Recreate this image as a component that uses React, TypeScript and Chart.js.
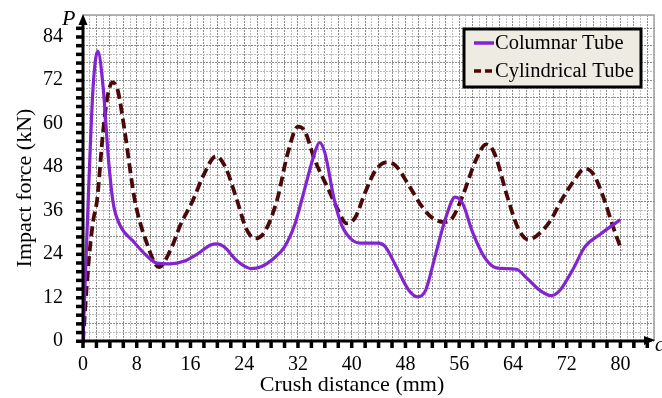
import React, { useEffect, useRef } from "react";
import { Chart, registerables } from "chart.js";

Chart.register(...registerables);

const columnarX = [0, 0.8, 1.5, 2.2, 3, 3.8, 4.5, 5.5, 7.5, 9.5, 11, 13, 15, 17, 19, 20, 21, 23, 25, 26.5, 28.5, 30, 31.5, 33, 34.5, 35.2, 36, 37.4, 38.5, 40, 41.5, 44, 45, 46.5, 48.5, 49.8, 51, 52.5, 54, 55.4, 56.5, 58, 59.8, 61.5, 64.5, 66, 68, 69.7, 71, 73, 74.7, 77, 80];
const columnarY = [0, 40, 70, 80, 70, 50, 38, 32, 27.5, 23.5, 21.5, 21.3, 22, 24, 26.5, 26.8, 26, 22, 20, 20.5, 23, 26, 32, 42, 52, 54.8, 52, 39, 32, 28, 27, 27, 26, 21, 14, 12.2, 14, 24, 34, 39.7, 38, 30, 23, 20.2, 19.8, 17.5, 14, 12.5, 14, 20, 26, 29.5, 33.5];

const cylindricalX = [0, 0.8, 1.5, 2.1, 3, 3.7, 4.4, 5.2, 6.2, 7.7, 9.5, 11.3, 13, 14.5, 16.4, 18, 19.8, 21.2, 22.9, 24.3, 25.6, 27, 28.9, 30.5, 32, 33, 34.5, 36.5, 38, 39.2, 40.5, 42, 43.5, 45.2, 46.5, 48.5, 50.5, 52, 53.8, 55, 56.5, 58.5, 60, 61.2, 63.3, 64.8, 66.3, 67.5, 69.5, 71.2, 73, 74.7, 76, 77.6, 79, 80.2];
const cylindricalY = [0, 21, 33, 39, 58, 68, 71.4, 69, 58, 39, 27, 20.4, 25, 32, 39, 46, 51, 48, 39, 31, 28.3, 30, 39, 52, 59.2, 58, 50, 42, 36, 32.5, 34, 41, 47, 49.3, 48.5, 43, 37, 34, 32.8, 34, 40, 50, 54.3, 52, 39, 31, 28, 29, 33, 38.8, 44, 47.6, 46, 39, 31, 25];

const xLabels = [0, 8, 16, 24, 32, 40, 48, 56, 64, 72, 80];
const yLabels = [0, 12, 24, 36, 48, 60, 72, 84];

const seriesNames = ["Columnar Tube", "Cylindrical Tube"];
const PURPLE = "#8224D0";
const MAROON = "#4A0808";
const SERIF = "'Liberation Serif', 'Times New Roman', serif";

const decorPlugin = {
  id: "decor",
  beforeDatasetsDraw(chart: any) {
    const { ctx, chartArea } = chart;
    ctx.save();
    ctx.strokeStyle = "#a0a0a0";
    ctx.lineWidth = 1.5;
    ctx.beginPath();
    ctx.moveTo(chartArea.left, chartArea.top);
    ctx.lineTo(chartArea.right, chartArea.top);
    ctx.lineTo(chartArea.right, chartArea.bottom);
    ctx.stroke();
    ctx.restore();
  },
  afterDraw(chart: any) {
    const { ctx, chartArea } = chart;
    const xs = chart.scales.x;
    const ys = chart.scales.y;
    const x0 = xs.getPixelForValue(0);
    const y0 = ys.getPixelForValue(0);
    ctx.save();
    ctx.fillStyle = "#000";
    ctx.strokeStyle = "#000";
    // y axis
    ctx.lineWidth = 3;
    ctx.beginPath();
    ctx.moveTo(x0, y0 + 1);
    ctx.lineTo(x0, chartArea.top + 6);
    ctx.stroke();
    ctx.beginPath();
    ctx.moveTo(x0, chartArea.top - 1);
    ctx.lineTo(x0 - 4.5, chartArea.top + 10);
    ctx.lineTo(x0 + 4.5, chartArea.top + 10);
    ctx.closePath();
    ctx.fill();
    // x axis
    ctx.beginPath();
    ctx.moveTo(x0 - 1, y0);
    ctx.lineTo(chartArea.right - 6, y0);
    ctx.stroke();
    ctx.beginPath();
    ctx.moveTo(chartArea.right + 1, y0 - 1);
    ctx.lineTo(chartArea.right - 10, y0 - 5);
    ctx.lineTo(chartArea.right - 10, y0 + 4);
    ctx.closePath();
    ctx.fill();
    // y tick marks
    for (let v = 0; v <= 86.5; v += 2.4) {
      const py = ys.getPixelForValue(v);
      ctx.fillRect(x0 - 7, py - 1.5, 7, 3.5);
    }
    // x tick marks
    for (let v = 0; v <= 84; v += 2) {
      const px = xs.getPixelForValue(v);
      ctx.fillRect(px - 1.75, y0, 3.5, 7);
    }
    // P and c labels
    ctx.font = `italic 22px ${SERIF}`;
    ctx.textAlign = "left";
    ctx.textBaseline = "alphabetic";
    ctx.fillText("P", x0 - 21, chartArea.top + 10);
    ctx.font = `italic 20px ${SERIF}`;
    ctx.fillText("c", chartArea.right + 1, y0 + 10);
    // axis titles
    ctx.font = `22px ${SERIF}`;
    ctx.textAlign = "center";
    ctx.textBaseline = "middle";
    ctx.fillText("Crush distance (mm)", 352, 385);
    ctx.save();
    ctx.translate(25, 188);
    ctx.rotate(-Math.PI / 2);
    ctx.fillText("Impact force (kN)", 0, 0);
    ctx.restore();
    // legend
    const lx = 464, ly = 29, lw = 177, lh = 58;
    ctx.fillStyle = "#EEECE2";
    ctx.fillRect(lx, ly, lw, lh);
    ctx.lineWidth = 3;
    ctx.strokeStyle = "#000";
    ctx.strokeRect(lx, ly, lw, lh);
    ctx.lineWidth = 3.5;
    ctx.strokeStyle = PURPLE;
    ctx.beginPath();
    ctx.moveTo(474, 43);
    ctx.lineTo(494, 43);
    ctx.stroke();
    ctx.strokeStyle = MAROON;
    ctx.setLineDash([7, 4]);
    ctx.beginPath();
    ctx.moveTo(474, 71);
    ctx.lineTo(494, 71);
    ctx.stroke();
    ctx.setLineDash([]);
    ctx.fillStyle = "#000";
    ctx.font = `20.5px ${SERIF}`;
    ctx.textAlign = "left";
    ctx.textBaseline = "middle";
    ctx.fillText(seriesNames[0], 495, 44);
    ctx.fillText(seriesNames[1], 495, 72);
    ctx.restore();
  },
};

export default function App() {
  const ref = useRef<HTMLCanvasElement | null>(null);
  useEffect(() => {
    if (!ref.current) return;
    const chart = new Chart(ref.current, {
      type: "line",
      data: {
        datasets: [
          {
            label: seriesNames[0],
            data: columnarX.map((x, i) => ({ x, y: columnarY[i] })),
            borderColor: PURPLE,
            borderWidth: 3.2,
            pointRadius: 0,
            cubicInterpolationMode: "monotone",
            fill: false,
          },
          {
            label: seriesNames[1],
            data: cylindricalX.map((x, i) => ({ x, y: cylindricalY[i] })),
            borderColor: MAROON,
            borderWidth: 3.8,
            borderDash: [10, 5],
            pointRadius: 0,
            cubicInterpolationMode: "monotone",
            fill: false,
          },
        ],
      },
      options: {
        responsive: false,
        animation: false,
        layout: { padding: { top: 15, right: 8, left: 0, bottom: 0 } },
        plugins: { legend: { display: false }, tooltip: { enabled: false } },
        scales: {
          x: {
            type: "linear",
            min: 0,
            max: 85,
            afterFit: (s: any) => { s.height = 57; s.paddingLeft = 0; s.paddingRight = 0; },
            ticks: {
              stepSize: 1,
              autoSkip: false,
              maxRotation: 0,
              padding: 12,
              color: "#000",
              font: { family: SERIF, size: 20 },
              callback: (v: any) => (xLabels.includes(Math.round(v)) && Math.abs(v - Math.round(v)) < 1e-6 ? String(Math.round(v)) : ""),
            },
            grid: {
              drawTicks: false,
              color: (c: any) => (c.index % 2 === 0 ? "#8c8c8c" : "#bdbdbd"),
              lineWidth: 1,
            },
            border: { display: false, dash: [2, 1] },
          },
          y: {
            type: "linear",
            min: 0,
            max: 90,
            afterFit: (s: any) => { s.width = 83; s.paddingTop = 0; s.paddingBottom = 0; },
            ticks: {
              stepSize: 2.4,
              autoSkip: false,
              padding: 20,
              color: "#000",
              font: { family: SERIF, size: 20 },
              callback: (v: any) => {
                const r = Math.round(v);
                return Math.abs(v - r) < 1e-6 && yLabels.includes(r) ? String(r) : "";
              },
            },
            grid: {
              drawTicks: false,
              color: (c: any) => (c.index % 2 === 0 ? "#8c8c8c" : "#bdbdbd"),
              lineWidth: 1,
            },
            border: { display: false, dash: [2, 1] },
          },
        },
      },
      plugins: [decorPlugin],
    } as any);
    return () => chart.destroy();
  }, []);
  return (
    <div style={{ position: "absolute", left: 0, top: 0, width: 662, height: 398, background: "#fff" }}>
      <canvas ref={ref} width={662} height={398} style={{ display: "block" }} />
    </div>
  );
}
